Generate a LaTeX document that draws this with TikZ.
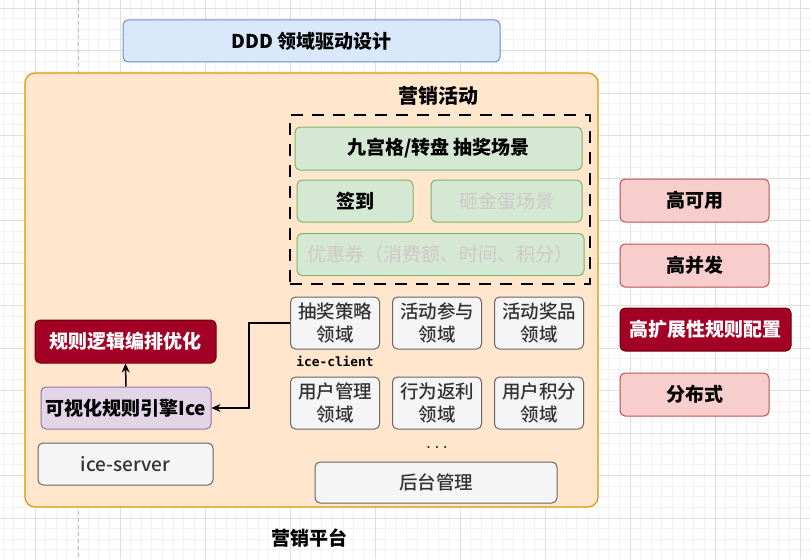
\documentclass[tikz,border=0pt]{standalone}
\usepackage{fontspec}
\setmainfont{Noto Sans CJK SC}
\newfontfamily\medfont{Noto Sans CJK SC Medium}
\newfontfamily\codefont{DejaVu Sans Mono}
\usetikzlibrary{positioning, arrows.meta}

\definecolor{gridmajor}{HTML}{DEDEDE}
\definecolor{gridminor}{HTML}{F2F2F2}
\definecolor{dddfill}{HTML}{DAE8FC}
\definecolor{ddddraw}{HTML}{6C8EBF}
\definecolor{platfill}{HTML}{FFE6CC}
\definecolor{platdraw}{HTML}{D79B00}
\definecolor{leaffill}{HTML}{D5E8D4}
\definecolor{leafdraw}{HTML}{82B366}
\definecolor{pinkfill}{HTML}{F8CECC}
\definecolor{pinkdraw}{HTML}{B85450}
\definecolor{wine}{HTML}{A20025}
\definecolor{winedraw}{HTML}{6F0000}
\definecolor{lilacfill}{HTML}{E1D5E7}
\definecolor{lilacdraw}{HTML}{9673A6}
\definecolor{domfill}{HTML}{F5F5F5}
\definecolor{domdraw}{HTML}{666666}
\definecolor{domtext}{HTML}{333333}
\definecolor{faded}{HTML}{CFC8C8}

\begin{document}
\begin{tikzpicture}[
    x=1pt, y=-1pt,
    bigfont/.style={font=\fontsize{19pt}{23pt}\selectfont\bfseries},
    tile/.style={rectangle, rounded corners=5pt, line width=1pt,
        align=center, inner sep=0pt, minimum height=42pt},
    ddd/.style={tile, fill=dddfill, draw=ddddraw, bigfont},
    leaf/.style={tile, fill=leaffill, draw=leafdraw, bigfont},
    pale/.style={leaf, text=faded, font=\fontsize{19pt}{23pt}\selectfont},
    pinkbox/.style={tile, fill=pinkfill, draw=pinkdraw, bigfont,
        minimum width=149pt, minimum height=43pt},
    winebox/.style={tile, fill=wine, draw=winedraw, text=white, bigfont,
        minimum height=43pt},
    lilac/.style={tile, fill=lilacfill, draw=lilacdraw, bigfont},
    dombox/.style={tile, fill=domfill, draw=domdraw, text=domtext,
        font=\medfont\fontsize{18.5pt}{23pt}\selectfont,
        minimum width=89pt, minimum height=52pt},
    link/.style={line width=1.5pt, -{Stealth[length=9pt, width=8pt]}},
]

% ---- Background grid ----
\useasboundingbox (0,0) rectangle (810,559);
\fill[white] (0,0) rectangle (810,559);
\foreach \i in {0,...,76}
    \draw[gridminor, line width=0.8pt] ({3.125+\i*10.625},0) -- ++(0,559);
\foreach \j in {0,...,52}
    \draw[gridminor, line width=0.8pt] (0,{8+\j*10.625}) -- ++(810,0);
\foreach \i in {0,...,9}
    \draw[gridmajor, line width=0.8pt] ({35+\i*85},0) -- ++(0,559);
\foreach \j in {0,...,13}
    \draw[gridmajor, line width=0.8pt] (0,{8+\j*42.5}) -- ++(810,0);
\draw[gray!50, line width=1pt, dash pattern=on 4pt off 3pt] (78,0) -- (78,559);

% ---- Top banner and platform frame ----
\node[ddd, minimum width=377pt] (ddd) at (311.5,41) {DDD 领域驱动设计};
\node[rectangle, rounded corners=10pt, fill=platfill, draw=platdraw,
      line width=1.2pt, minimum width=573pt, minimum height=434pt]
    (platform) at (311.5,290) {};
\node[bigfont, font=\fontsize{20pt}{24pt}\selectfont\bfseries] (acttitle) at (438,96) {营销活动};
\node[bigfont] (plattitle) at (309,538) {营销平台};

% ---- Activity scenes (dashed group) ----
\node[draw=black, line width=2pt, dash pattern=on 12pt off 9pt,
      minimum width=300pt, minimum height=169pt] (activity) at (440,199.5) {};
\node[leaf, minimum width=287pt, minimum height=43pt] (lottery) at (438.5,148.5)
    {九宫格/转盘 抽奖场景};
\node[leaf, minimum width=116pt] (signin) at (355,201) {签到};
\node[pale, minimum width=151pt] (egg) at (506.5,201) {砸金蛋场景};
\node[pale, minimum width=287pt] (coupon) at (440.5,254.5)
    {优惠券（消费额、时间、积分）};

% ---- Domains ----
\begin{scope}[node distance=27pt and 12pt]
\node[dombox] (strategy) at (335,323) {抽奖策略\\领域};
\node[dombox, right=of strategy] (join) {活动参与\\领域};
\node[dombox, right=of join] (prize) {活动奖品\\领域};
\node[dombox, below=of strategy] (user) {用户管理\\领域};
\node[dombox, right=of user] (rebate) {行为返利\\领域};
\node[dombox, right=of rebate] (points) {用户积分\\领域};
\end{scope}
\node[below=6pt of strategy, inner sep=0pt,
      font=\codefont\fontsize{12.8pt}{14pt}\selectfont\bfseries] (iceclient) {ice-client};
\node[below=17pt of rebate, inner sep=0pt, text=domtext,
      font=\codefont\fontsize{14pt}{16pt}\selectfont] (dots) {...};
\node[dombox, minimum width=242pt, minimum height=41pt] (admin) at (436,482.5) {后台管理};

% ---- Rule engine ----
\node[winebox, minimum width=181pt] (ruleopt) at (125.5,341.5) {规则逻辑编排优化};
\node[lilac, minimum width=170pt] (iceui) at (126,408) {可视化规则引擎Ice};
\node[dombox, minimum width=175pt, minimum height=42pt,
      font=\medfont\fontsize{19pt}{23pt}\selectfont] (iceserver) at (125.5,464) {ice-server};

% ---- Qualities ----
\node[pinkbox] (ha) at (694.5,200.5) {高可用};
\node[pinkbox, below=21pt of ha] (hc) {高并发};
\node[winebox, minimum width=171pt, below=20pt of hc.south west, anchor=north west]
    (hx) {高扩展性规则配置};
\node[pinkbox, below=21pt of hx.south west, anchor=north west] (dist) {分布式};

% ---- Connectors ----
\draw[link] (strategy.west) -- ++(-41,0) |- (iceui.east);
\draw[link] (iceui.north) -- (ruleopt.south);

\end{tikzpicture}
\end{document}
